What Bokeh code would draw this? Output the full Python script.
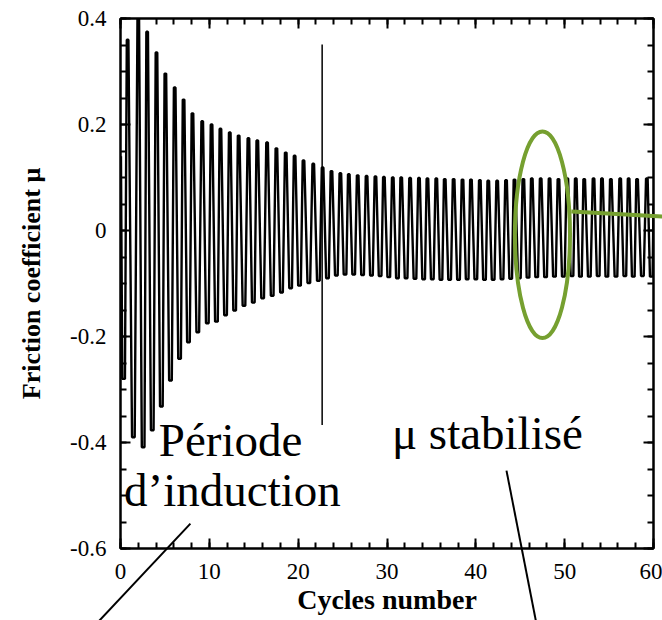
import numpy as np
from bokeh.plotting import figure
from bokeh.models import FixedTicker, LinearAxis, Label, Range1d, CustomLabelingPolicy
from bokeh.embed import file_html
from bokeh.resources import INLINE

# ---- data ----
# x position (cycles) of each positive peak of the friction coefficient
peak_x = [0.8, 2.0, 3.0, 4.05, 5.05, 6.1, 7.1, 8.1, 9.2, 10.25, 11.25, 12.3, 13.3,
          14.4, 15.4, 16.5, 17.55, 18.6, 19.6, 20.6, 21.7, 22.75, 23.75, 24.75, 25.7,
          26.7, 27.7, 28.7, 29.65, 30.65, 31.6, 32.6, 33.6, 34.55, 35.55, 36.5, 37.5,
          38.5, 39.45, 40.45, 41.4, 42.4, 43.4, 44.35, 45.35, 46.3, 47.3, 48.3, 49.3,
          50.3, 51.25, 52.2, 53.25, 54.2, 55.2, 56.25, 57.2, 58.15, 59.25]
# maximum mu of each cycle
peak_mu = [0.36, 0.40, 0.375, 0.336, 0.296, 0.27, 0.247, 0.221, 0.206, 0.20, 0.192,
           0.185, 0.179, 0.174, 0.170, 0.166, 0.155, 0.147, 0.141, 0.132, 0.126, 0.119,
           0.112, 0.108, 0.106, 0.104, 0.103, 0.102, 0.101, 0.100, 0.100, 0.099, 0.099,
           0.098, 0.098, 0.097, 0.097, 0.096, 0.096, 0.095, 0.094, 0.094, 0.095, 0.096,
           0.097, 0.098, 0.098, 0.098, 0.097, 0.098, 0.098, 0.097, 0.098, 0.098, 0.097,
           0.098, 0.098, 0.097, 0.098]
# minimum mu: first one before the first peak, then one after each peak
trough_mu = [-0.28, -0.39, -0.409, -0.377, -0.332, -0.283, -0.242, -0.211, -0.192,
             -0.175, -0.172, -0.160, -0.151, -0.142, -0.136, -0.128, -0.123, -0.117,
             -0.109, -0.104, -0.099, -0.095, -0.090, -0.085, -0.083, -0.083, -0.084,
             -0.085, -0.086, -0.088, -0.090, -0.090, -0.091, -0.092, -0.092, -0.093,
             -0.093, -0.093, -0.092, -0.092, -0.093, -0.093, -0.092, -0.091, -0.090,
             -0.089, -0.088, -0.088, -0.087, -0.087, -0.086, -0.087, -0.087, -0.086,
             -0.087, -0.087, -0.086, -0.087, -0.086, -0.087]
start_mu = 0.14
end_mu = 0.05

x_ticks = [0, 10, 20, 30, 40, 50, 60]
x_tick_labels = ["0", "10", "20", "30", "40", "50", "60"]
y_ticks = [-0.6, -0.4, -0.2, 0, 0.2, 0.4]
y_tick_labels = ["-0.6", "-0.4", "-0.2", "0", "0.2", "0.4"]

# ---- build the wave path from the extrema ----
trough_x = [peak_x[0] - 0.45]
for i in range(len(peak_x) - 1):
    trough_x.append((peak_x[i] + peak_x[i + 1]) / 2 + 0.05)
trough_x.append(peak_x[-1] + 0.5)

half = 0.15
xs = [0.05]
ys = [start_mu]
for i in range(len(peak_x)):
    xs += [trough_x[i] - half, trough_x[i] + half]
    ys += [trough_mu[i], trough_mu[i]]
    xs += [peak_x[i] - half * 0.6, peak_x[i] + half * 0.6]
    ys += [peak_mu[i], peak_mu[i]]
xs += [trough_x[-1] - half, trough_x[-1] + half]
ys += [trough_mu[-1], trough_mu[-1]]
xs.append(60.0)
ys.append(end_mu)

GREEN = "#76A030"
SERIF = "Liberation Serif"

p = figure(width=662, height=620, x_range=Range1d(0, 60), y_range=Range1d(-0.6, 0.4),
           output_backend="svg", toolbar_location=None,
           min_border_left=120, min_border_right=9, min_border_top=18,
           min_border_bottom=72)
p.grid.visible = False
p.background_fill_color = "white"
p.border_fill_color = "white"
p.outline_line_color = "black"
p.outline_line_width = 2

p.line(xs, ys, line_color="black", line_width=2.4)

# boundary of induction period
p.segment(x0=[22.7], y0=[0.351], x1=[22.7], y1=[-0.367], line_color="black", line_width=1.5)

# green ellipse and its leader (leader runs off the frame)
p.ellipse(x=[47.5], y=[-0.008], width=[6.2], height=[0.39], fill_color=None,
          line_color=GREEN, line_width=4)
p.segment(x0=[50.75], y0=[0.036], x1=[61.2], y1=[0.026], line_color=GREEN,
          line_width=4, level="overlay")

# annotation texts and leaders
for tx, ty, tt in [(12.4, -0.395, "Période"), (12.6, -0.490, "d’induction"),
                   (41.3, -0.383, "μ stabilisé")]:
    p.add_layout(Label(x=tx, y=ty, text=tt, text_font=SERIF, text_color="black",
                       text_font_size="47px", text_align="center",
                       text_baseline="alphabetic"))
p.segment(x0=[7.87, 43.45], y0=[-0.553, -0.453], x1=[-2.6, 46.8], y1=[-0.74, -0.74],
          line_color="black", line_width=2, level="overlay")

# axes
xa = p.xaxis[0]
ya = p.yaxis[0]
x_minor = list(np.arange(0, 61, 2))
y_minor = list(np.round(np.arange(-0.6, 0.41, 0.05), 2))
xa.ticker = FixedTicker(ticks=x_ticks, minor_ticks=x_minor)
ya.ticker = FixedTicker(ticks=y_ticks, minor_ticks=y_minor)
xa.major_label_overrides = dict(zip(x_ticks, x_tick_labels))
ya.major_label_overrides = dict(zip(y_ticks, y_tick_labels))
xa.axis_label = "Cycles number"
ya.axis_label = "Friction coefficient μ"

no_labels = CustomLabelingPolicy(code="""
try { for (let i = 0; i < indices.size; i++) { indices.unset(i) } } catch (e) {}
return indices
""")
top = LinearAxis(ticker=FixedTicker(ticks=x_ticks, minor_ticks=x_minor),
                 major_label_policy=no_labels)
right = LinearAxis(ticker=FixedTicker(ticks=y_ticks, minor_ticks=y_minor),
                   major_label_policy=no_labels)
p.add_layout(top, "above")
p.add_layout(right, "right")

for ax in (xa, ya, top, right):
    ax.major_tick_in = 10
    ax.major_tick_out = 0
    ax.minor_tick_in = 6
    ax.minor_tick_out = 0
    ax.major_tick_line_width = 2
    ax.minor_tick_line_width = 2
    ax.major_tick_line_color = "black"
    ax.minor_tick_line_color = "black"
    ax.axis_line_width = 2
    ax.axis_line_color = "black"
    ax.major_label_text_font = SERIF
    ax.major_label_text_font_size = "23px"
    ax.major_label_text_color = "black"
    ax.axis_label_text_font = SERIF
    ax.axis_label_text_font_style = "bold"
    ax.axis_label_text_font_size = "26px"
    ax.axis_label_text_color = "black"

for ax in (top, right):
    ax.major_label_text_font_size = "1px"
    ax.major_label_text_alpha = 0
    ax.major_label_standoff = 0

xa.axis_label_text_font_size = "28px"
xa.major_label_standoff = 15
ya.major_label_standoff = 14
xa.axis_label_standoff = 2
ya.axis_label_standoff = 21

open("out.html", "w").write(file_html(p, INLINE))
